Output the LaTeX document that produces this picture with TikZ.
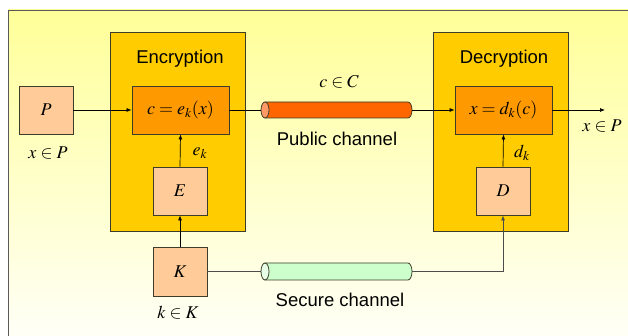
\documentclass[tikz,border=0pt]{standalone}
\usepackage{mathptmx}
\usepackage[no-math]{fontspec}
\setmainfont{Liberation Sans}
\usetikzlibrary{arrows.meta}
\definecolor{bgtop}{RGB}{255,255,153}
\definecolor{bgbot}{RGB}{255,255,250}
\definecolor{encfill}{RGB}{255,204,0}
\definecolor{funcfill}{RGB}{255,153,0}
\definecolor{keyfill}{RGB}{255,204,153}
\definecolor{pubbody}{RGB}{255,102,0}
\definecolor{pubend}{RGB}{255,153,102}
\definecolor{secbody}{RGB}{204,255,204}
\definecolor{secend}{RGB}{230,255,230}
\definecolor{edge}{RGB}{60,60,40}
\begin{document}
\begin{tikzpicture}[x=1pt,y=-1pt,
  box/.style={draw=edge, line width=0.8pt, fill=#1, inner sep=0pt},
  title/.style={font=\fontsize{18.5}{20}\selectfont},
  mlab/.style={font=\fontsize{18}{20}\selectfont, inner sep=0pt},
  conn/.style={line width=0.7pt, draw=black},
  arr/.style={conn, -{Latex[length=5pt,width=4pt]}},
  tube/.style={draw=edge, line width=0.8pt}]
\useasboundingbox (0,0) rectangle (628,336);
\shade[top color=bgtop, bottom color=bgbot, draw=black!65, line width=0.9pt]
  (8,10) rectangle (640,348);
% enclosing boxes
\node[box=encfill, minimum width=135pt, minimum height=199pt] (enc) at (177.5,131.5) {};
\node[box=encfill, minimum width=135pt, minimum height=199pt] (dec) at (500.5,131.5) {};
\node[title] (enct) at (180,59) {Encryption};
\node[title] (dect) at (504,59) {Decryption};
% inner boxes
\node[box=funcfill, minimum width=97pt, minimum height=48pt, mlab] (encf) at (180.5,110) {$c = e_k(x)$};
\node[box=funcfill, minimum width=97pt, minimum height=48pt, mlab] (decf) at (503.5,110) {$x = d_k(c)$};
\node[box=keyfill, minimum width=54pt, minimum height=48pt, mlab] (P) at (46,110) {$P$};
\node[box=keyfill, minimum width=54pt, minimum height=48pt, mlab] (E) at (180,191) {$E$};
\node[box=keyfill, minimum width=54pt, minimum height=49pt, mlab] (K) at (180,271.5) {$K$};
\node[box=keyfill, minimum width=54pt, minimum height=48pt, mlab] (D) at (503,191) {$D$};
% labels
\node[mlab] (xP) at (48,153) {$x\in P$};
\node[mlab] (kK) at (178,313) {$k\in K$};
\node[mlab] (ek) at (200,153) {$e_k$};
\node[mlab] (dk) at (522,153) {$d_k$};
\node[mlab] (cC) at (339,82) {$c\in C$};
\node[mlab] (xPo) at (602,126) {$x\in P$};
\node[title] (pubt) at (337,139) {Public channel};
\node[title] (sect) at (340,300) {Secure channel};
% public channel tube
\path[tube, fill=pubbody] (265,102) -- (408,102) arc[start angle=-90, end angle=90, x radius=4, y radius=8] -- (265,118) -- cycle;
\draw[tube, fill=pubend] (265,110) ellipse[x radius=4, y radius=8];
\coordinate (publ) at (261,110);
\coordinate (pubr) at (412,110);
% secure channel tube
\path[tube, fill=secbody] (265,263) -- (408,263) arc[start angle=-90, end angle=90, x radius=4, y radius=8.5] -- (265,280) -- cycle;
\draw[tube, fill=secend] (265,271.5) ellipse[x radius=4, y radius=8.5];
\coordinate (secl) at (261,271.5);
\coordinate (secr) at (412,271.5);
\coordinate (out) at (605,110);
% connectors
\draw[arr] (P.east) -- (encf.west);
\draw[conn] (encf.east) -- (publ);
\draw[arr] (pubr) -- (decf.west);
\draw[arr] (decf.east) -- (out);
\draw[arr] (E.north) -- (encf.south);
\draw[arr] (K.north) -- (E.south);
\draw[conn, draw=black!70] (K.east) -- (secl);
\draw[arr, draw=black!70] (secr) -| (D.south);
\draw[arr] (D.north) -- (decf.south);
\end{tikzpicture}
\end{document}
